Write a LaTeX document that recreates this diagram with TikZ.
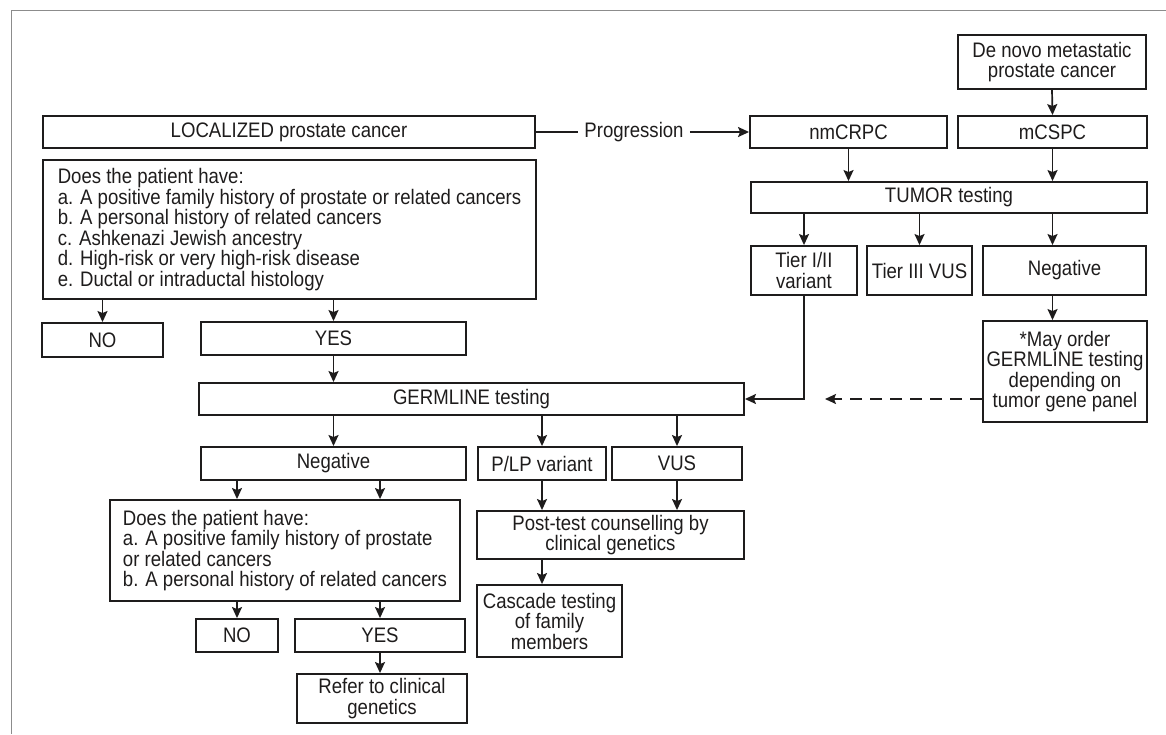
\documentclass[tikz,border=0pt]{standalone}
\usepackage{fontspec}
\setmainfont{Liberation Sans}[FakeStretch=0.885]
\usetikzlibrary{arrows.meta,positioning}
\definecolor{ink}{RGB}{30,28,28}
\definecolor{framegray}{RGB}{140,140,140}

\begin{document}
\begin{tikzpicture}[
        x=1pt, y=-1pt,
        every node/.style={font=\fontsize{21pt}{20.5pt}\selectfont, text=ink},
        block/.style={rectangle, draw=ink, line width=1.9pt, align=center, inner sep=2pt, minimum height=32pt},
        % cac o cau hoi: chu canh trai
        question/.style={block, align=left, inner xsep=10pt},
        arrow/.style={line width=1.7pt, draw=ink, ->, >={Stealth[length=11pt, width=10pt, inset=2pt]}},
        dasharrow/.style={arrow, dash pattern=on 12pt off 8pt}
    ]
    \useasboundingbox (0,0) rectangle (1166,734);
    \draw[framegray, line width=1pt] (1166,10.5) -- (11.5,10.5) -- (11.5,734);

    % --- Localized branch ---
    \node (loc) [block, minimum width=492pt] at (289,132) {LOCALIZED prostate cancer};
    \node (q1) [question, minimum width=493pt, minimum height=139pt] at (289.5,229.5) {Does the patient have:\\
        a. A positive family history of prostate or related cancers\\
        b. A personal history of related cancers\\
        c. Ashkenazi Jewish ancestry\\
        d. High-risk or very high-risk disease\\
        e. Ductal or intraductal histology};
    \node (no1) [block, minimum width=121pt, minimum height=34pt] at (102.5,340) {NO};
    \node (yes1) [block, minimum width=265pt, minimum height=33pt] at (333.5,338.5) {YES};

    \draw[arrow] (q1.south -| no1) -- (no1.north);
    \draw[arrow] (q1.south -| yes1) -- (yes1.north);

    % --- Metastatic branch ---
    \node (prog) [inner xsep=6pt] at (634,132) {Progression};
    \node (nmcrpc) [block, minimum width=197pt] at (848.5,132) {nmCRPC};
    \node (mcspc) [block, minimum width=189pt] at (1052.5,132) {mCSPC};
    \node (denovo) [block, minimum width=188pt, minimum height=54pt] at (1052,62) {De novo metastatic\\prostate cancer};
    \node (tumor) [block, minimum width=396pt, minimum height=31pt] at (949,197.5) {TUMOR testing};
    \node (tier12) [block, minimum width=106pt, minimum height=49pt] at (804,270.5) {Tier I/II\\variant};
    \node (tier3) [block, minimum width=105pt, minimum height=49pt] at (919.5,270.5) {Tier III VUS};
    \node (tneg) [block, minimum width=163pt, minimum height=49pt] at (1064.5,270.5) {Negative};
    \node (may) [block, minimum width=164pt, minimum height=101pt] at (1065,371.5) {*May order\\GERMLINE testing\\depending on\\tumor gene panel};

    \draw[line width=1.7pt, draw=ink] (loc.east) -- (prog.west);
    \draw[arrow] (prog.east) -- (nmcrpc.west);
    \draw[arrow] (denovo.south) -- (mcspc.north);
    \draw[arrow] (nmcrpc.south) -- (tumor.north -| nmcrpc);
    \draw[arrow] (mcspc.south) -- (tumor.north -| mcspc);
    \draw[arrow] (tumor.south -| tier12) -- (tier12.north);
    \draw[arrow] (tumor.south -| tier3) -- (tier3.north);
    \draw[arrow] (tumor.south -| mcspc) -- (tneg.north -| mcspc);
    \draw[arrow] (tneg.south -| mcspc) -- (may.north -| mcspc);

    % --- GERMLINE testing ---
    \node (germ) [block, minimum width=545pt] at (471.5,399) {GERMLINE testing};
    \coordinate (dashend) at (825,399);

    \draw[arrow] (yes1.south) -- (germ.north -| yes1);
    \draw[arrow] (tier12.south) |- (germ.east);
    \draw[dasharrow] (may.west |- germ.east) -- (dashend);

    \node (gneg) [block, minimum width=265pt, minimum height=33pt] at (333.5,463.5) {Negative};
    \node (plp) [block, minimum width=128pt, minimum height=33pt] at (542,463.5) {P/LP variant};
    \node (vus) [block, minimum width=130pt, minimum height=33pt] at (677,463.5) {VUS};

    \draw[arrow] (germ.south -| gneg) -- (gneg.north);
    \draw[arrow] (germ.south -| plp) -- (plp.north);
    \draw[arrow] (germ.south -| vus) -- (vus.north);

    % --- after negative germline ---
    \node (q2) [question, minimum width=350pt, minimum height=101pt] at (285,550.5) {Does the patient have:\\
        a. A positive family history of prostate\\
        or related cancers\\
        b. A personal history of related cancers};
    \node (no2) [block, minimum width=82pt, minimum height=33pt] at (237,635.5) {NO};
    \node (yes2) [block, minimum width=170pt, minimum height=33pt] at (380,635.5) {YES};
    \node (refer) [block, minimum width=170pt, minimum height=49pt] at (382,698.5) {Refer to clinical\\genetics};

    \draw[arrow] (gneg.south -| no2) -- (q2.north -| no2);
    \draw[arrow] (gneg.south -| yes2) -- (q2.north -| yes2);
    \draw[arrow] (q2.south -| no2) -- (no2.north);
    \draw[arrow] (q2.south -| yes2) -- (yes2.north);
    \draw[arrow] (yes2.south) -- (refer.north -| yes2);

    % --- P/LP and VUS ---
    \node (post) [block, minimum width=267pt, minimum height=48pt] at (610.5,535) {Post-test counselling by\\clinical genetics};
    \node (cascade) [block, minimum width=145pt, minimum height=72pt] at (549.5,621) {Cascade testing\\of family\\members};

    \draw[arrow] (plp.south) -- (post.north -| plp);
    \draw[arrow] (vus.south) -- (post.north -| vus);
    \draw[arrow] (post.south -| plp) -- (cascade.north -| plp);

\end{tikzpicture}
\end{document}
